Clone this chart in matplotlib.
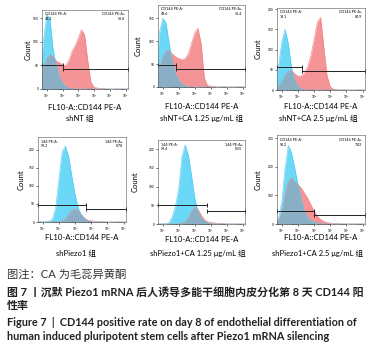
import matplotlib
matplotlib.use("Agg")
import matplotlib.pyplot as plt
import numpy as np

plt.rcParams['font.family'] = ['Lato', 'Noto Sans CJK SC', 'DejaVu Sans']
plt.rcParams['mathtext.default'] = 'regular'

# bin centres in decades (log10 of FL10-A)
bins = [0.6, 0.8, 1.0, 1.2, 1.4, 1.6, 1.8, 2.0, 2.2, 2.4, 2.6, 2.8, 3.0, 3.2, 3.4,
        3.6, 3.8, 4.0, 4.2, 4.4, 4.6, 4.8, 5.0, 5.2, 5.4, 5.6, 5.8, 6.0, 6.2]

# isotype / unstained (blue) counts per bin
blue_shNT = [30, 105, 158, 150, 85, 50, 25, 12, 5, 2, 0, 0, 0, 0, 0,
             0, 0, 0, 0, 0, 0, 0, 0, 0, 0, 0, 0, 0, 0]
blue_shNT_125 = [25, 120, 150, 140, 95, 55, 28, 14, 6, 2, 0, 0, 0, 0, 0,
                 0, 0, 0, 0, 0, 0, 0, 0, 0, 0, 0, 0, 0, 0]
blue_shNT_25 = [20, 60, 120, 150, 115, 55, 22, 8, 2, 0, 0, 0, 0, 0, 0,
                0, 0, 0, 0, 0, 0, 0, 0, 0, 0, 0, 0, 0, 0]
blue_shP = [0, 0, 0, 1, 2, 8, 40, 120, 195, 210, 180, 125, 75, 38, 18,
            6, 2, 1, 0, 0, 0, 0, 0, 0, 0, 0, 0, 0, 0]
blue_shP_125 = [0, 0, 0, 1, 4, 20, 50, 95, 180, 212, 185, 130, 70, 32, 15,
                7, 3, 1, 0, 0, 0, 0, 0, 0, 0, 0, 0, 0, 0]
blue_shP_25 = [5, 20, 80, 195, 275, 250, 195, 140, 85, 42, 22, 12, 5, 2, 1,
               0, 0, 0, 0, 0, 0, 0, 0, 0, 0, 0, 0, 0, 0]

# CD144 stained (red) counts per bin
red_shNT = [25, 45, 62, 72, 68, 60, 56, 52, 50, 60, 80, 92, 108, 126, 115,
            60, 15, 4, 2, 1, 1, 0, 0, 0, 0, 0, 0, 0, 0]
red_shNT_125 = [18, 40, 62, 78, 80, 72, 66, 62, 60, 62, 72, 95, 118, 128, 95,
                20, 3, 2, 1, 0, 0, 0, 0, 0, 0, 0, 0, 0, 0]
red_shNT_25 = [2, 8, 20, 35, 45, 48, 40, 34, 35, 42, 58, 85, 125, 168, 180,
               105, 35, 8, 2, 1, 0, 0, 0, 0, 0, 0, 0, 0, 0]
red_shP = [0, 0, 0, 0, 0, 0, 0, 1, 3, 8, 20, 32, 35, 30, 20,
           10, 5, 3, 2, 1, 1, 0, 0, 0, 0, 0, 0, 0, 0]
red_shP_125 = [0, 0, 0, 0, 0, 0, 0, 0, 2, 5, 15, 33, 45, 40, 24,
               12, 6, 4, 3, 2, 1, 1, 0, 0, 0, 0, 0, 0, 0]
red_shP_25 = [3, 15, 35, 100, 145, 160, 145, 138, 126, 108, 90, 67, 45, 28, 16,
              9, 5, 3, 2, 1, 1, 0, 0, 0, 0, 0, 0, 0, 0]

groups = ["shNT 组", "shNT+CA 1.25 μg/mL 组", "shNT+CA 2.5 μg/mL 组",
          "shPiezo1 组", "shPiezo1+CA 1.25 μg/mL 组", "shPiezo1+CA 2.5 μg/mL 组"]
blues = [blue_shNT, blue_shNT_125, blue_shNT_25, blue_shP, blue_shP_125, blue_shP_25]
reds = [red_shNT, red_shNT_125, red_shNT_25, red_shP, red_shP_125, red_shP_25]
neg_pct = ["43.2", "48.6", "19.1", "99.2", "99.4", "92.2"]
pos_pct = ["56.8", "51.4", "80.9", "0.78", "0.55", "7.82"]
gate_names = ["CD144 PE-A", "CD144 PE-A", "CD144 PE-A", "144 PE-A", "144 PE-A", "CD144 PE-A"]
# gate split (decade) and gate heights (counts)
gate_split = [2.06, 1.84, 2.23, 3.69, 3.79, 2.99]
gate_neg_y = [51, 48, 58, 47, 50, 47]
gate_pos_y = [42, 39, 48, 35, 36, 33]
y_max = [168, 179, 203, 235, 225, 312]
y_ticks = [[0, 50, 100, 150], [0, 50, 100, 150], [0, 50, 100, 150, 200],
           [0, 50, 100, 150, 200], [0, 50, 100, 150, 200], [0, 100, 200, 300]]
decades = [1, 2, 3, 4, 5, 6]
x_lo, x_hi = 0.7, 6.15

W, H = 379, 351
fig = plt.figure(figsize=(W / 100, H / 100), dpi=100)

# axes boxes in pixels: left, top, right, bottom
boxes = [(42, 10, 128, 89), (158, 5, 245, 87), (277, 8, 365, 90),
         (38, 137, 126, 222), (158, 140, 245, 224), (277, 135, 365, 224)]
xlab_y = [108, 107, 107, 237, 239, 238]
ylab_x = [28, 138, 258, 21, 135, 258]
sub_pos = [(80, 118), (202, 118), (318, 118), (76, 253), (198, 253), (318, 253)]

blue_c = "#6ad8f6"
red_c = "#f59496"
over_c = "#8aafc4"

minor = [d + np.log10(k) for d in range(0, 7) for k in range(2, 10)]

for i in range(6):
    l, t, r, b = boxes[i]
    ax = fig.add_axes([l / W, 1 - b / H, (r - l) / W, (b - t) / H])
    bl = np.array(blues[i], float)
    rd = np.array(reds[i], float)
    ax.fill_between(bins, 0, rd, color=red_c, lw=0)
    ax.plot(bins, rd, color="#ee7b7d", lw=0.4)
    ax.fill_between(bins, 0, bl, color=blue_c, lw=0)
    ax.plot(bins, bl, color="#4cc8ef", lw=0.4)
    ax.fill_between(bins, 0, np.minimum(bl, rd), color=over_c, lw=0)

    # gates
    s = gate_split[i]
    ax.plot([x_lo, s], [gate_neg_y[i]] * 2, color="#222222", lw=0.7,
            marker="|", ms=3, mew=0.7)
    ax.plot([s, x_hi], [gate_pos_y[i]] * 2, color="#222222", lw=0.7,
            marker="|", ms=3, mew=0.7)

    ax.text(0.03, 0.97, gate_names[i] + "-\n" + neg_pct[i], transform=ax.transAxes,
            ha="left", va="top", fontsize=2.6, linespacing=1.3)
    ax.text(0.97, 0.97, gate_names[i] + "+\n" + pos_pct[i], transform=ax.transAxes,
            ha="right", va="top", fontsize=2.6, linespacing=1.3, multialignment="right")

    ax.set_xlim(x_lo, x_hi)
    ax.set_ylim(0, y_max[i])
    ax.set_xticks(decades)
    ax.set_xticklabels(["$10^{%d}$" % d for d in decades])
    ax.set_xticks([m for m in minor if x_lo < m < x_hi], minor=True)
    ax.set_yticks(y_ticks[i])
    ax.tick_params(labelsize=2.3, length=1.5, width=0.4, pad=1)
    ax.tick_params(which="minor", length=0.8, width=0.3)
    for sp in ax.spines.values():
        sp.set_linewidth(0.4)
        sp.set_color("#555555")

    cx = (l + r) / 2
    fig.text(cx / W, 1 - xlab_y[i] / H, "FL10-A::CD144 PE-A", ha="center", va="center",
             fontsize=5.6)
    fig.text(ylab_x[i] / W, 1 - (t + b) / 2 / H, "Count", rotation=90, ha="center",
             va="center", fontsize=5.5)
    fig.text(sub_pos[i][0] / W, 1 - sub_pos[i][1] / H, groups[i], ha="center",
             va="center", fontsize=5.5)

cap_c = "#333333"
fig.text(7 / W, 1 - 274 / H, "图注：CA 为毛蕊异黄酮", ha="left", va="center",
         fontsize=8.1, color=cap_c)
fig.text(7 / W, 1 - 292 / H, "图 7 丨沉默 Piezo1 mRNA 后人诱导多能干细胞内皮分化第 8 天 CD144 阳",
         ha="left", va="center", fontsize=7.9, color="#222222", fontweight="bold")
fig.text(7 / W, 1 - 306 / H, "性率", ha="left", va="center", fontsize=7.9,
         color="#222222", fontweight="bold")
fig.text(7 / W, 1 - 322 / H,
         "Figure 7  |  CD144 positive rate on day 8 of endothelial differentiation of",
         ha="left", va="center", fontsize=7.8, color="#222222", fontweight="bold")
fig.text(7 / W, 1 - 337 / H,
         "human induced pluripotent stem cells after Piezo1 mRNA silencing",
         ha="left", va="center", fontsize=7.8, color="#222222", fontweight="bold")

fig.savefig("out.png", dpi=100)
